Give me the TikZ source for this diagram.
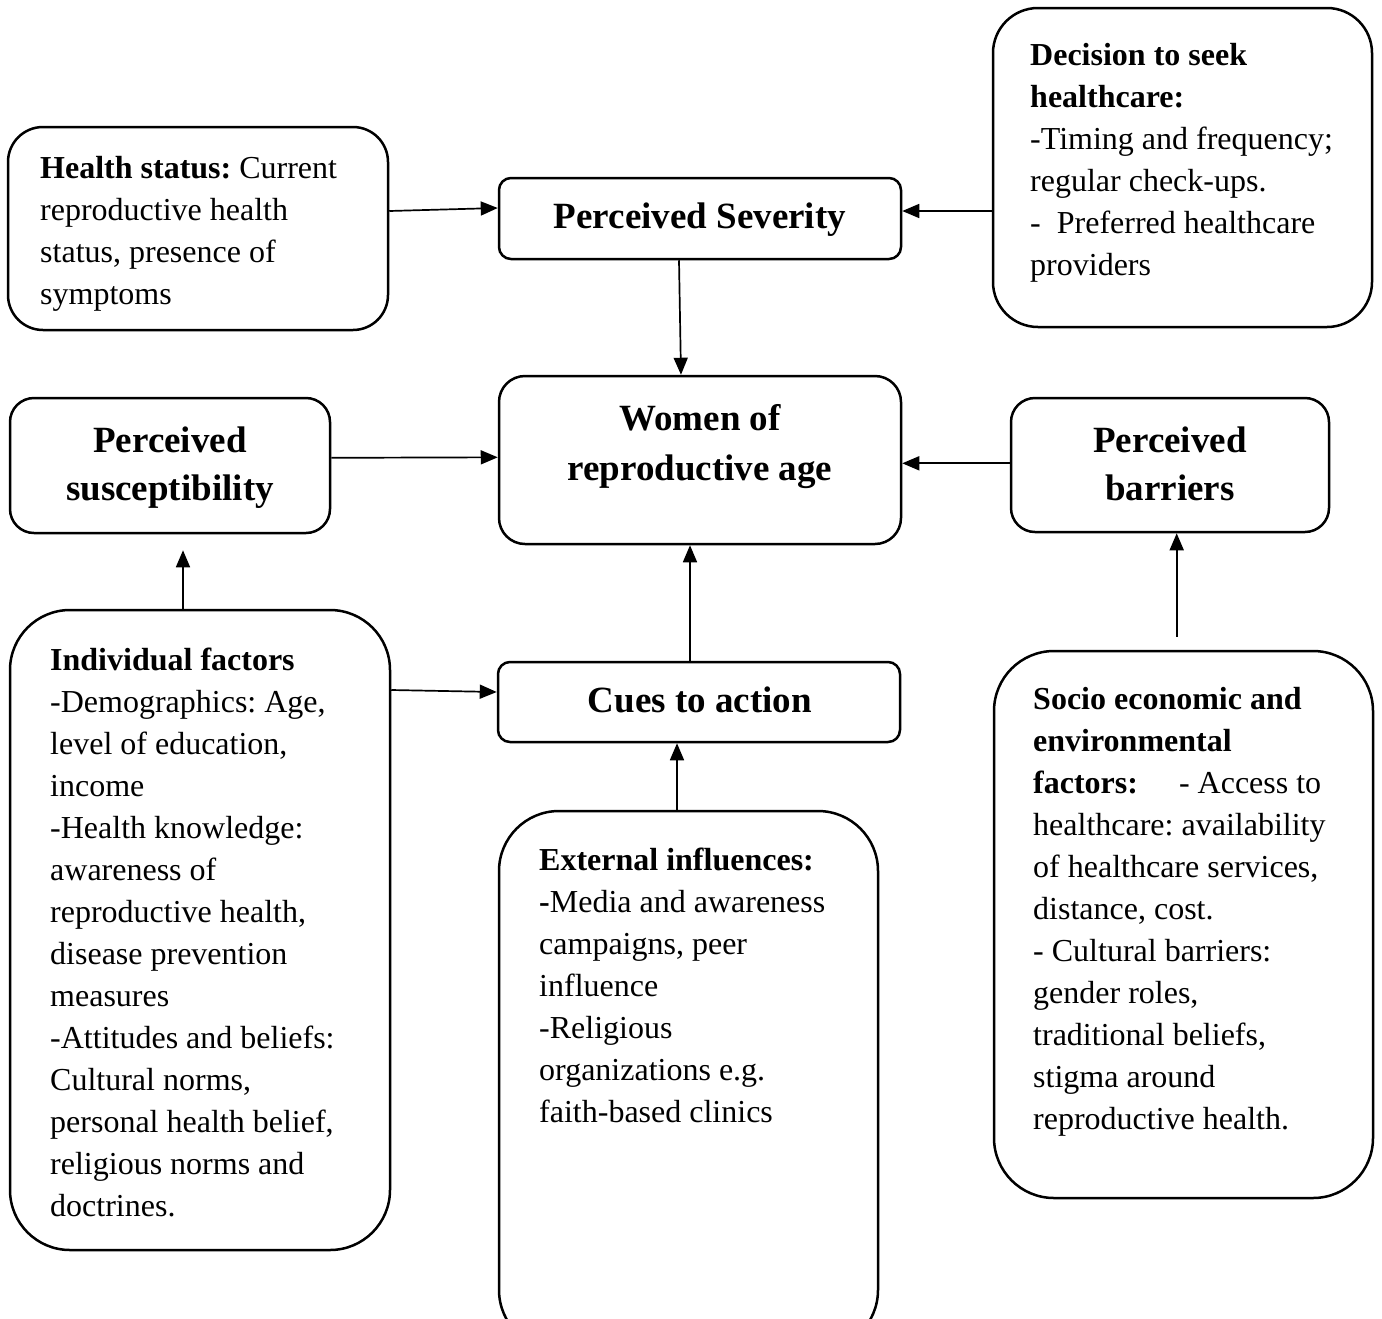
\documentclass[tikz,border=0pt]{standalone}
\usepackage{fontspec}
\setmainfont{Liberation Serif}
\usetikzlibrary{arrows.meta}
\frenchspacing
\newcommand\bodyfnt{\fontsize{32}{42}\selectfont\frenchspacing}
\newcommand\headfnt{\fontsize{37}{48}\selectfont\bfseries}
\tikzset{
  rbox/.style={draw, line width=2.5pt, rounded corners=#1, inner sep=0pt},
  rbox/.default=20pt,
  txt/.style={anchor=north west, inner sep=0pt, align=left, font=\bodyfnt},
  head/.style={anchor=north, inner sep=0pt, align=center, font=\headfnt},
  conn/.style={line width=1.7pt, -{Triangle[length=17pt,width=14pt]}}
}
\begin{document}
\begin{tikzpicture}[x=1pt,y=-1pt]
\useasboundingbox (0,0) rectangle (1382,1318);
\clip (0,0) rectangle (1382,1318);
% boxes
\node[rbox=35pt, minimum width=380pt, minimum height=203pt] (hs) at (198,228.5) {};
\node[rbox=12pt, minimum width=402pt, minimum height=81pt] (ps) at (700,218.5) {};
\node[rbox=45pt, minimum width=379pt, minimum height=319pt] (dec) at (1182.5,167.5) {};
\node[rbox=24pt, minimum width=320pt, minimum height=135pt] (sus) at (170,465.5) {};
\node[rbox=26pt, minimum width=402pt, minimum height=168pt] (wom) at (700,460) {};
\node[rbox=24pt, minimum width=318pt, minimum height=134pt] (bar) at (1170,465) {};
\node[rbox=60pt, minimum width=380pt, minimum height=640pt] (ind) at (200,930) {};
\node[rbox=12pt, minimum width=402pt, minimum height=80pt] (cue) at (699,702) {};
\node[rbox=60pt, minimum width=379pt, minimum height=539pt] (ext) at (688.5,1080.5) {};
\node[rbox=60pt, minimum width=379pt, minimum height=547pt] (soc) at (1183.5,924.5) {};
% texts
\node[txt] (hst) at (40,148) {\rule{0pt}{30pt}\textbf{Health status:} Current\\reproductive health\\status, presence of\\symptoms};
\node[head] (pst) at (700,193) {\rule{0pt}{35pt}Perceived Severity};
\node[txt] (dect) at (1030,35) {\rule{0pt}{30pt}\textbf{Decision to seek}\\\textbf{healthcare:}\\-Timing and frequency;\\regular check-ups.\\-\hspace*{16pt}Preferred healthcare\\providers};
\node[head] (sust) at (170,417) {\rule{0pt}{35pt}Perceived\\susceptibility};
\node[head, font=\fontsize{37}{50}\selectfont\bfseries] (womt) at (700,395) {\rule{0pt}{35pt}Women of\\reproductive age};
\node[head] (bart) at (1170,417) {\rule{0pt}{35pt}Perceived\\barriers};
\node[txt] (indt) at (50,640) {\rule{0pt}{30pt}\textbf{Individual factors}\\-Demographics: Age,\\level of education,\\income\\-Health knowledge:\\awareness of\\reproductive health,\\disease prevention\\measures\\-Attitudes and beliefs:\\Cultural norms,\\personal health belief,\\religious norms and\\doctrines.};
\node[head] (cuet) at (700,677) {\rule{0pt}{35pt}Cues to action};
\node[txt] (extt) at (539,840) {\rule{0pt}{30pt}\textbf{External influences:}\\\textbf{-}Media and awareness\\campaigns, peer\\influence\\-Religious\\organizations e.g.\\faith-based clinics};
\node[txt] (soct) at (1033,679) {\rule{0pt}{30pt}\textbf{Socio economic and}\\\textbf{environmental}\\\textbf{factors:}\hspace*{41pt}- Access to\\healthcare: availability\\of healthcare services,\\distance, cost.\\- Cultural barriers:\\gender roles,\\traditional beliefs,\\stigma around\\reproductive health.};
% connectors
\draw[conn] ([yshift=17.5pt]hs.east) -- ([yshift=10.5pt]ps.west);
\draw[conn] ([yshift=-43.5pt]dec.west) -- ([yshift=7.5pt]ps.east);
\draw[conn] ([xshift=-21pt]ps.south) -- ([xshift=-19pt]wom.north);
\draw[conn] ([yshift=7.7pt]sus.east) -- ([yshift=2.7pt]wom.west);
\draw[conn] ([yshift=1.7pt]bar.west) -- ([yshift=-3.3pt]wom.east);
\draw[conn] ([xshift=-9pt]cue.north) -- ([xshift=-10pt]wom.south);
\draw[conn] ([xshift=-17pt]ind.north) -- ([xshift=13pt,yshift=-16pt]sus.south);
\draw[conn] ([yshift=240pt]ind.east) -- ([yshift=10pt]cue.west);
\draw[conn] ([xshift=-11.5pt]ext.north) -- ([xshift=-22pt]cue.south);
\draw[conn] ([xshift=-6.8pt,yshift=13pt]soc.north) -- ([xshift=6.7pt]bar.south);
\end{tikzpicture}
\end{document}
